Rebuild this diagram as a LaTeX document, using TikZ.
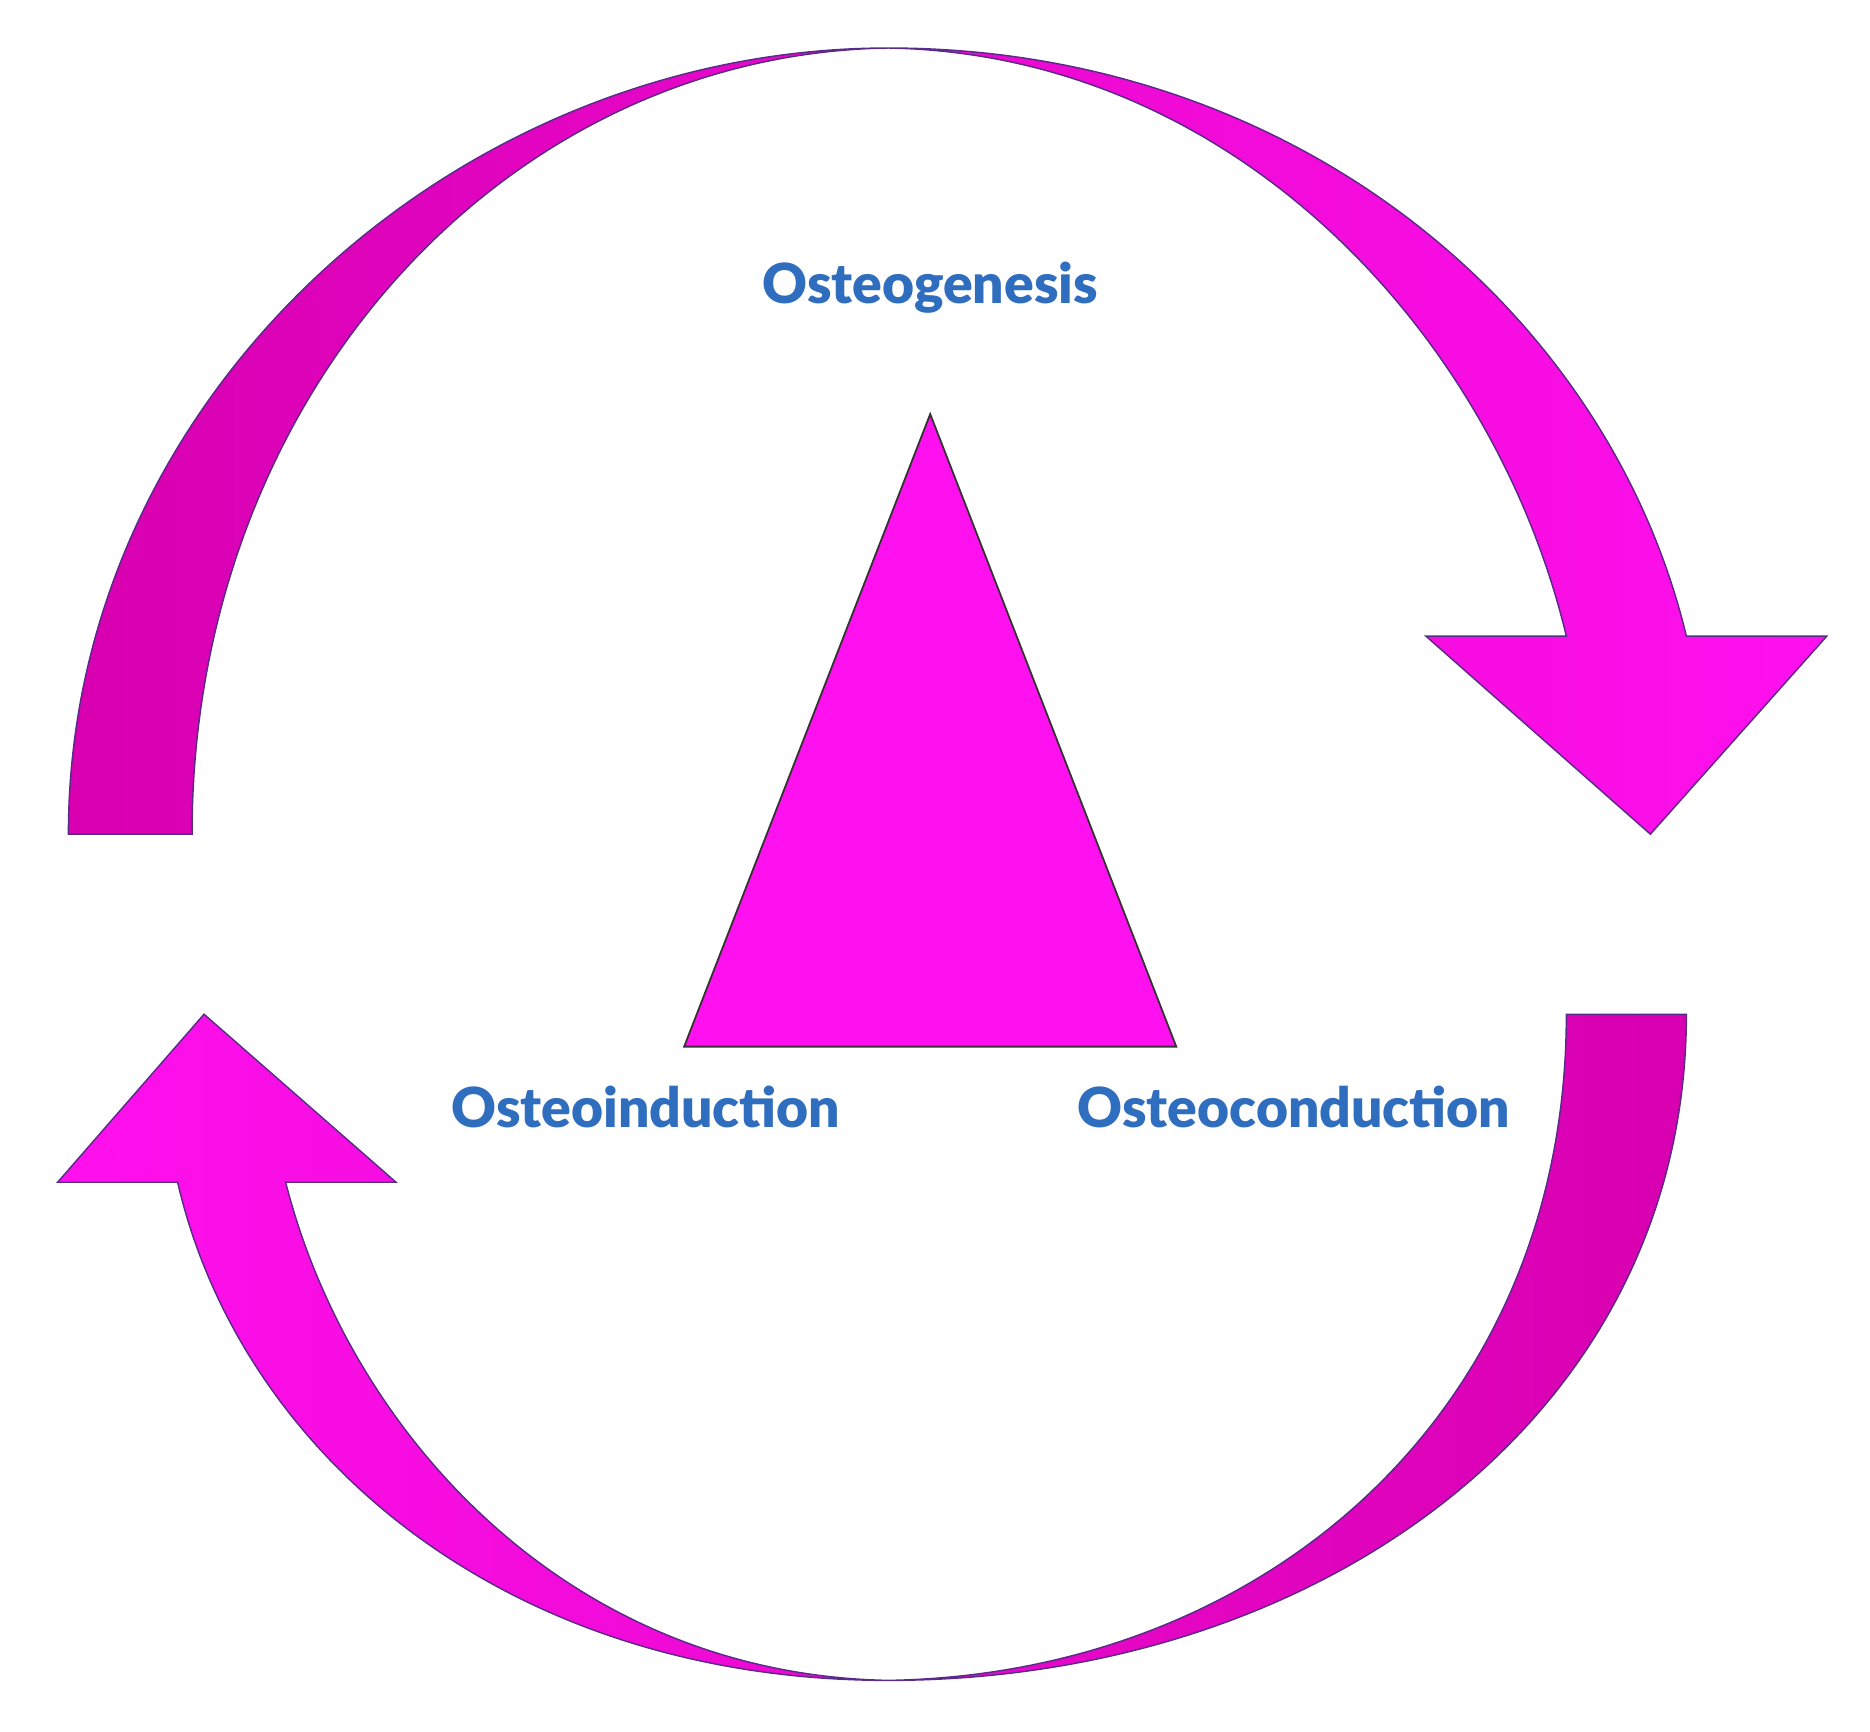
\documentclass[tikz,border=0pt]{standalone}
\usepackage{fontspec}
\setmainfont{Lato Black}
\definecolor{mag}{HTML}{FF10EE}
\definecolor{magd}{HTML}{D800B0}
\definecolor{edge}{HTML}{5A2A8A}
\definecolor{txt}{HTML}{2F6DBE}
\begin{document}
\begin{tikzpicture}[x=1pt,y=-1pt,
  arr/.style={draw=edge,line width=1.2pt,line join=miter},
  lbl/.style={text=txt,font=\fontsize{46}{54}\selectfont,inner sep=0pt}]
\useasboundingbox (0,0) rectangle (1558,1443);
% top arrow
\path[arr,left color=magd,right color=mag]
 (57,695) .. controls (57,330) and (380,40) .. (740,40)
 .. controls (1080,40) and (1340,260) .. (1405,530)
 -- (1522,530) -- (1375,695) -- (1188,530) -- (1305,530)
 .. controls (1245,280) and (1030,45) .. (740,40)
 .. controls (420,45) and (160,330) .. (160,695) -- cycle;
% bottom arrow
\path[arr,left color=mag,right color=magd]
 (1405,845) .. controls (1405,1180) and (1100,1400) .. (740,1400)
 .. controls (420,1400) and (200,1210) .. (148,985)
 -- (48,985) -- (170,845) -- (330,985) -- (238,985)
 .. controls (290,1190) and (470,1395) .. (740,1400)
 .. controls (1050,1395) and (1305,1180) .. (1305,845) -- cycle;
% triangle
\node[coordinate] (t1) at (775,345) {};
\node[coordinate] (t2) at (570,872) {};
\node[coordinate] (t3) at (980,872) {};
\draw[fill=mag,draw=black!80,line width=1.5pt,line join=miter] (t1) -- (t2) -- (t3) -- cycle;
\node[lbl] (og) at (775,240) {Osteogenesis};
\node[lbl] (oi) at (538,922) {Osteoinduction};
\node[lbl] (oc) at (1078,922) {Osteoconduction};
\end{tikzpicture}
\end{document}
